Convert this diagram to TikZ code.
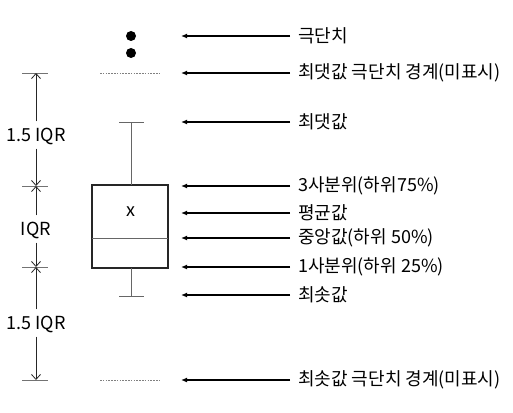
\documentclass[tikz,border=0pt]{standalone}
\usepackage{fontspec}
\setmainfont{Noto Sans CJK KR}
\usetikzlibrary{arrows.meta}

\begin{document}
\begin{tikzpicture}[x=1pt, y=-1pt,
  txt/.style={font=\fontsize{18}{21}\selectfont, inner sep=1pt},
  pointer/.style={-{Latex[length=6pt, width=5pt]}, line width=1.3pt, shorten <=7pt},
  dimarrow/.style={-{Straight Barb[length=5pt, width=9pt]}, line width=0.8pt, black!85},
  tick/.style={line width=0.6pt, black!55},
  whisker/.style={line width=0.8pt, black!60},
  fence/.style={line width=0.6pt, black!50, dash pattern=on 1.6pt off 1.2pt}]

\useasboundingbox (0,0) rectangle (513,412) ;

% box and whiskers
\draw[line width=1.1pt, black!85] (92,185) rectangle (168,268) ;
\draw[whisker] (92,238) -- (168,238) ;
\draw[whisker] (131,185) -- (131,122) ;
\draw[whisker] (119,122) -- (144,122) ;
\draw[whisker] (131,268) -- (131,296) ;
\draw[whisker] (119,296) -- (144,296) ;
\node[txt] (mark) at (131,212) {x} ;
\fill (131,36) circle (5) ;
\fill (131,53) circle (5) ;
\draw[fence] (100,73) -- (160,73) ;
\draw[fence] (100,380) -- (160,380) ;

% targets of the pointers
\coordinate (pOut) at (181,36) ;
\coordinate (pFenceUp) at (181,73) ;
\coordinate (pMax) at (181,122) ;
\coordinate (pQthree) at (181,186) ;
\coordinate (pMean) at (181,213) ;
\coordinate (pMed) at (181,238) ;
\coordinate (pQone) at (181,267) ;
\coordinate (pMin) at (181,295) ;
\coordinate (pFenceLo) at (181,380) ;

% labels
\node[txt, anchor=west] (lOut) at (297,36) {극단치} ;
\node[txt, anchor=west] (lFenceUp) at (297,73) {최댓값 극단치 경계(미표시)} ;
\node[txt, anchor=west] (lMax) at (297,122) {최댓값} ;
\node[txt, anchor=west] (lQthree) at (297,186) {3사분위(하위75\%)} ;
\node[txt, anchor=west] (lMean) at (297,213) {평균값} ;
\node[txt, anchor=west] (lMed) at (297,238) {중앙값(하위 50\%)} ;
\node[txt, anchor=west] (lQone) at (297,267) {1사분위(하위 25\%)} ;
\node[txt, anchor=west] (lMin) at (297,295) {최솟값} ;
\node[txt, anchor=west] (lFenceLo) at (297,380) {최솟값 극단치 경계(미표시)} ;

\draw[pointer] (lOut.west) -- (pOut) ;
\draw[pointer] (lFenceUp.west) -- (pFenceUp) ;
\draw[pointer] (lMax.west) -- (pMax) ;
\draw[pointer] (lQthree.west) -- (pQthree) ;
\draw[pointer] (lMean.west) -- (pMean) ;
\draw[pointer] (lMed.west) -- (pMed) ;
\draw[pointer] (lQone.west) -- (pQone) ;
\draw[pointer] (lMin.west) -- (pMin) ;
\draw[pointer] (lFenceLo.west) -- (pFenceLo) ;

% IQR scale on the left
\coordinate (sTop) at (36,73) ;
\coordinate (sQthree) at (36,186) ;
\coordinate (sQone) at (36,267) ;
\coordinate (sBot) at (36,380) ;
\foreach \y in {73,186,267,380} \draw[tick] (22,\y) -- (48,\y) ;
\node[txt] (dUp) at (36,136) {1.5 IQR} ;
\node[txt] (dMid) at (36,230) {IQR} ;
\node[txt] (dLo) at (36,324) {1.5 IQR} ;
\draw[dimarrow, shorten <=5pt] (dUp.north) -- (sTop) ;
\draw[dimarrow, shorten <=3pt] (dUp.south) -- (sQthree) ;
\draw[dimarrow, shorten <=5pt] (dMid.north) -- (sQthree) ;
\draw[dimarrow, shorten <=3pt] (dMid.south) -- (sQone) ;
\draw[dimarrow, shorten <=5pt] (dLo.north) -- (sQone) ;
\draw[dimarrow, shorten <=3pt] (dLo.south) -- (sBot) ;
\end{tikzpicture}
\end{document}
